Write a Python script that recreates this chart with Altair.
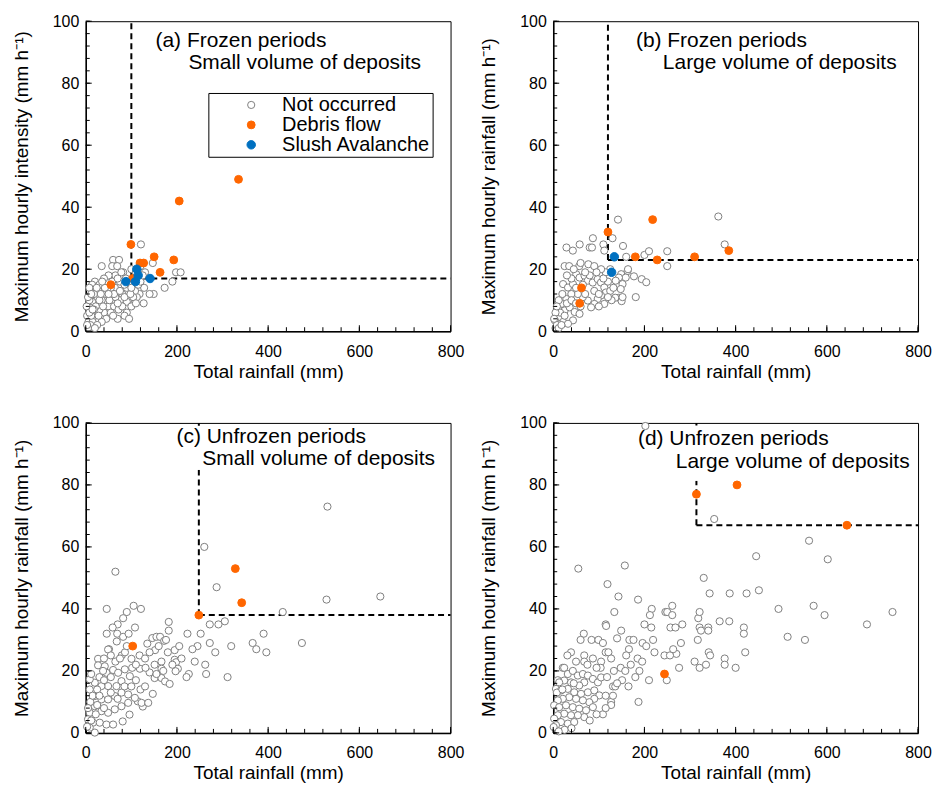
import altair as alt
import pandas as pd

FONT = "Liberation Sans"
ORANGE = "#FF6600"
BLUE = "#0070C0"
GRAY = "#7F7F7F"
TYPES = ["Not occurred", "Debris flow", "Slush Avalanche"]

X_TITLE = "Total rainfall (mm)"
Y_TITLES = ["Maximum hourly intensity (mm h\u207b\u00b9)",
            "Maximum hourly rainfall (mm h\u207b\u00b9)",
            "Maximum hourly rainfall (mm h\u207b\u00b9)",
            "Maximum hourly rainfall (mm h\u207b\u00b9)"]
X_LABELS = [0, 200, 400, 600, 800]
Y_LABELS = [0, 20, 40, 60, 80, 100]
X_MINOR = list(range(0, 801, 40))
Y_MINOR = list(range(0, 101, 4))

# ---- panel (a) Frozen periods, small volume ----
a_not = [(121,28),(60,23),(73,23),(35,21),(58,21),(69,21),(82,19),(65,18),(100,20),(147,22),(198,19),(208,19),
         (190,16),(173,14),(149,12),(140,12),(128,14),(118,12),(127,9),(112,11),(93,10),(90,14),(108,13),(104,11),
         (90,9.5),(70,4),(90,6),(68,13),(64,14),(54,11),(46,9),(39,13),(25,11),(14,9.5),(10,7.5),(3,5),(6,3),
         (20,16),(14,15),(8,14),(28,13),(45,16),(50,18),(75,16),(85,15),(95,16),(105,17),(115,15),(80,12),(75,10),
         (60,10),(50,8),(40,6),(30,7),(20,5),(15,3),(10,2),(5,1),(2,8),(8,10),(18,12),(35,10),(45,12),(55,14),
         (62,8),(72,7),(80,8),(85,11),(98,12),(100,8),(110,9),(65,11),(55,6),(45,4),(35,3),(25,2),(12,5),(22,8),
         (30,10),(38,8),(48,14),(58,16),(70,17),(78,19),(88,17),(40,17),(30,15),(5,11),(12,12),(3,2),(8,6),(18,7),
         (28,5),(33,12),(42,14),(52,10),(62,12),(70,9),(85,5),(95,4),(20,1),(15,7),(24,14),(36,16),(50,12),(60,5),
         (75,13),(100,14),(120,16),(130,19),(110,19),(120,21),(125,18)]
a_debris = [(99,28),(55,15),(119,22),(127,22),(150,24),(193,23),(163,19),(103,17),(205,42),(335,49)]
a_slush = [(88,16),(109,16),(112,20),(115,18),(141,17)]
a_threshold = (100, 17)

# ---- panel (b) Frozen periods, large volume ----
b_not = [(142,36),(362,37),(376,28),(130,30),(153,27.5),(160,24),(200,24.6),(210,25.8),(250,25.8),(250,21),
         (29,27),(43,26),(58,28),(80,27),(85,27),(87,30),(110,28),(112,26),(25,21),(35,21),(57,21),(77,21.6),
         (90,21),(181,11),(177,17.7),(194,16.8),(204,15.8),(144,10.8),(136,10.8),(150,9.7),(163,19.4),(149,18.4),
         (159,17.3),(144,17.3),(137,16.3),(152,15.2),(148,13.6),(152,11),(164,20),
         (21.6,15.2),(32.4,14.1),(43.3,15.2),(50.5,18.4),(57.7,17.3),(68.6,17.9),(75.8,16.3),(86.6,15.7),
         (97.5,16.8),(104.7,15.7),(112,14.1),(115.5,12.5),(104.7,11.5),(97.5,10.4),(112,8.8),(90.2,8.8),(83,7.7),
         (75.8,9.9),(65,11),(54,12),(39.7,12),(28.8,10.4),(18,8.8),(10.8,7.2),(7.1,5.6),(14.4,4.6),(21.6,3),
         (25.2,6.7),(36,7.7),(47,6.2),(57.7,5.6),(43.3,3.5),(32.4,2.4),(10.8,2.4),(3.5,3.5),
         (5,1),(8,2),(12,1),(15,6),(18,2),(25,5),(30,9),(40,10),(50,9),(60,8),(70,12),(90,13),(100,12),(120,16),
         (125,20),(115,19),(105,20),(95,19),(80,18),(65,15),(50,14),(40,17),(30,18),(20,12),(12,10),(5,6),(2,4),
         (8,8),(45,20),(60,22),(70,19),(100,8),(110,17),(125,13),(128,10),(132,14),(120,11)]
b_debris = [(120,32),(218,36),(180,24),(228,23),(310,24),(385,26),(62,14),(58,9)]
b_slush = [(134,24),(128,19)]
b_threshold = (120, 23)

# ---- panel (c) Unfrozen periods, small volume ----
c_not = [(530,73),(646,44),(528,43),(432,39),(474,29),(390,32),(396,26),(366,29),(374,27),(311,18),(319,28),
         (305,36),(291,35),(272,35),(287,47),(260,60),(252,32),(223,32),(245,28),(234,27),(272,29),(284,26),
         (239,23),(262,22),(264,19),(226,19),(221,18),
         (65,52),(46,40),(105,41),(121,40),(90,39),(82,37),(70,35),(59,34),(46,32),(69,32),(82,31),(94,32),
         (108,34),(51,27),(68,29.5),(79,25),
         (140,19.5),(118,25),(151,22),(166,23),(166,20.7),(151,17.7),(166,17.7),(174,16.6),(184,15.8),(147,12.6),
         (125,8.5),(114,10.2),(96,5.9),(81,3.7),
         (135,28.8),(152,26.7),(146,30.6),(155,31),(163,31),(172,29.7),(182,35.8),(182,33),(195,26.7),(195,23.6),
         (198,22.8),(202,20.7),(197,19.9),
         (27,23.9),(27,21.8),(41.7,21.5),(49,26.9),(45.4,19.4),(60,20.3),(71,19.4),(85.7,20.5),(100.3,23.9),
         (101.8,21),(118.7,20.7),(131,21),(96.7,18.3),(78.4,16.7),(67.4,15.1),(49,15.1),(34.4,15.1),(19.8,16.2),
         (8.8,17.3),(8.8,14),(19.8,11.9),(34.4,10.8),(49,10.8),(63.7,11.9),(78.4,13),(93,12.4),(107.7,11.3),
         (122.3,9.7),(137,9.7),(93,9.7),(78.4,8.6),(63.7,7.6),(49,6.5),(34.4,7),(19.8,8.6),(8.8,6.5),(5,4.4),
         (16,3.3),(30.7,3.3),(45.4,2.7),(60,2.7),(19.8,0.1),(8.8,1.7),
         (10,10),(15,12),(25,14),(30,18),(38,20),(40,17),(55,18),(65,23),(75,24),(86,26),(90,28),(55,25),(40,24),
         (30,12),(22,6),(12,4),(5,8),(25,9),(40,8),(55,13),(70,11),(85,15),(100,15),(110,17),(120,14),(130,15),
         (110,22),(130,24),(140,26),(160,28),(176,30),(180,26),(205,28),(210,24),(190,22),(170,20),(155,19),
         (3,2),(12,19)]
c_debris = [(248,38),(328,53),(342,42),(103,28)]
c_slush = []
c_threshold = (248, 38)

# ---- panel (d) Unfrozen periods, large volume ----
d_not = [(202,99),(353,69),(561,62),(602,56),(445,57),(330,50),(343,45),(387,45),(424,45),(451,46),(494,40),
         (571,41),(595,38),(688,35),(744,39),(514,31),(552,30),(421,26),(418,34),(418,32),(365,36),(386,36),
         (318,37),(321,39),(321,34),(324,33),(340,34),(340,33),(317,30),(280,29),(283,35),(341,26),(344,25),
         (310,23),(321,21),(335,22),(376,24),(376,22),(400,21),(276,21),(270,25.5),(249,17),
         (55,53),(157,54),(119,48),(143,44),(186,43),(134,39),(115,35),(116,34.5),(149,33),(140,30.5),(67,32),
         (60,30),(84,30),(99,30),(109,29),(167,30),(176,30),(166,27),(160,25),(39,26),(31,25),(21,21),(10,17),
         (200,35),(215,34),(216,40),(212,38),(246,39),(261,41),(196,29),(204,28),(219,30),(222,26),(244,25),
         (256,25),(257,34),(268,34),(263,27),(250,39),(261,38),
         (115,26),(121,26),(24,21),(68,25),(68,23),(87,24),(105,23),(104,21),(127,24),(133,20),(151,17),(165,15),
         (187,10),(109,6),(210,17),(189,20),(180,18),(127,10),(127,9),(131,15),(136,15),(131,12),
         (32,19),(43,20),(54,18.5),(65,19),(76,18.5),(87,17.4),(98,16.3),(105,17.9),(68,16.3),(57,15.3),(39,16.3),
         (24,16.9),(13,16.3),(6,14.2),(17,13.7),(32,14.2),(46,13.1),(61,12.6),(76,13.1),(90,13.7),(101,12.1),
         (90,11),(79,9.9),(65,10.5),(50,11),(35,11.5),(21,11),(10,10.5),(2,8.9),(13,8.3),(28,8.9),(43,8.3),
         (57,7.8),(72,7.3),(87,8.3),(68,5.1),(54,5.7),(39,5.7),(24,6.2),(10,5.7),(2,4.6),(17,3.5),(32,3),(46,3.5),
         (6,2.5),(1,1.9),(25,1),(12,0.5),(40,1.5),(80,4),(95,6),(115,12),(118,18),(148,21),(158,20),(170,22),
         (185,24),(195,23),(140,16),(75,22),(50,23),(95,21),(8,13),(20,14),(45,16),(115,8)]
d_debris = [(314,77),(403,80),(644,67),(244,19)]
d_slush = []
d_threshold = (314, 67)

a_lines = ["(a) Frozen periods", "Small volume of deposits"]
b_lines = ["(b) Frozen periods", "Large volume of deposits"]
c_lines = ["(c) Unfrozen periods", "Small volume of deposits"]
d_lines = ["(d) Unfrozen periods", "Large volume of deposits"]

W, H = 366, 311


def make_panel(not_occ, debris, slush, thr, lines, line_pos, ytitle, show_legend, box=None):
    rows = []
    for kind, pts in zip(TYPES, [not_occ, debris, slush]):
        for x, y in pts:
            rows.append({"x": x, "y": y, "type": kind})
    df = pd.DataFrame(rows)

    xs = alt.Scale(domain=[0, 800], nice=False, zero=True)
    ys = alt.Scale(domain=[0, 100], nice=False, zero=True)
    xax = alt.Axis(values=X_LABELS, title=X_TITLE, grid=False, ticks=False, tickSize=0,
                   labelPadding=12, titlePadding=3, labelFlush=False)
    yax = alt.Axis(values=Y_LABELS, title=ytitle, grid=False, ticks=False, tickSize=0,
                   labelPadding=7, titlePadding=21, labelFlush=False)

    def X(f):
        return alt.X(f, type="quantitative", scale=xs, axis=xax)

    def Y(f):
        return alt.Y(f, type="quantitative", scale=ys, axis=yax)

    if show_legend:
        leg = alt.Legend(orient="none", legendX=123, legendY=72, title=None,
                         strokeColor="black", fillColor="white", padding=2,
                         symbolOffset=31, labelOffset=21, labelFontSize=20, labelFont=FONT,
                         rowPadding=0, symbolStrokeWidth=1, labelColor="black")
    else:
        leg = None

    vx, hy = thr
    thr_df = pd.DataFrame([
        {"x": vx, "x2": vx, "y": hy, "y2": 100},
        {"x": vx, "x2": 800, "y": hy, "y2": hy},
    ])
    dashes = alt.Chart(thr_df).mark_rule(color="black", strokeDash=[6, 4], strokeWidth=2).encode(
        x=X("x"), x2="x2", y=Y("y"), y2="y2")

    layers = [dashes]
    if box is not None:
        bx0, bx1, by0, by1 = box
        layers.append(alt.Chart(thr_df).mark_rect(color="white").encode(
            x=alt.value(bx0), x2=alt.value(bx1), y=alt.value(by0), y2=alt.value(by1)))

    for txt, (px, py) in zip(lines, line_pos):
        layers.append(alt.Chart(pd.DataFrame([{"t": txt}])).mark_text(
            align="left", baseline="middle", fontSize=21, font=FONT, color="black").encode(
            text="t:N", x=alt.value(px), y=alt.value(py)))

    pts = alt.Chart(df).mark_point(shape="circle", opacity=1, strokeWidth=1).encode(
        x=X("x"), y=Y("y"),
        fill=alt.Fill("type:N", scale=alt.Scale(domain=TYPES, range=["white", ORANGE, BLUE]),
                      legend=leg, sort=TYPES),
        stroke=alt.Stroke("type:N", scale=alt.Scale(domain=TYPES, range=[GRAY, ORANGE, BLUE]),
                          legend=leg, sort=TYPES),
        size=alt.Size("type:N", scale=alt.Scale(domain=TYPES, range=[52, 72, 72]),
                      legend=leg, sort=TYPES),
    )
    layers.append(pts)

    ymaj = pd.DataFrame({"v": Y_LABELS})
    ymin = pd.DataFrame({"v": Y_MINOR})
    xmaj = pd.DataFrame({"v": X_LABELS})
    xmin = pd.DataFrame({"v": X_MINOR})
    layers.append(alt.Chart(ymin).mark_rule(color="black", strokeWidth=1).encode(
        y=Y("v"), x=alt.value(0), x2=alt.value(4)))
    layers.append(alt.Chart(ymaj).mark_rule(color="black", strokeWidth=1).encode(
        y=Y("v"), x=alt.value(0), x2=alt.value(6)))
    layers.append(alt.Chart(xmin).mark_rule(color="black", strokeWidth=1).encode(
        x=X("v"), y=alt.value(H), y2=alt.value(H - 4)))
    layers.append(alt.Chart(xmaj).mark_rule(color="black", strokeWidth=1).encode(
        x=X("v"), y=alt.value(H), y2=alt.value(H - 6)))

    return alt.layer(*layers).properties(width=W, height=H)


pa = make_panel(a_not, a_debris, a_slush, a_threshold, a_lines, [(70, 20), (103, 42)], Y_TITLES[0], True)
pb = make_panel(b_not, b_debris, b_slush, b_threshold, b_lines, [(83, 20), (110, 42)], Y_TITLES[1], False)
pc = make_panel(c_not, c_debris, c_slush, c_threshold, c_lines, [(91, 14), (117, 36)], Y_TITLES[2], False,
                box=(87, 360, 6, 47))
pd_ = make_panel(d_not, d_debris, d_slush, d_threshold, d_lines, [(85, 16), (123, 39)], Y_TITLES[3], False,
                 box=(80, 365, 5, 58))

top = alt.hconcat(pa, pb, spacing=14).resolve_scale(fill="independent", stroke="independent", size="independent")
bottom = alt.hconcat(pc, pd_, spacing=14).resolve_scale(fill="independent", stroke="independent", size="independent")

chart = alt.vconcat(top, bottom, spacing=32).resolve_scale(
    fill="independent", stroke="independent", size="independent"
).properties(
    padding={"left": 3, "top": 3, "right": 0, "bottom": 0},
    background="white",
).configure_view(
    stroke="black", strokeWidth=1
).configure_axis(
    domainColor="black", domainWidth=1.5,
    labelFont=FONT, titleFont=FONT, labelFontSize=16, titleFontSize=19,
    titleFontWeight="normal", labelColor="black", titleColor="black",
).configure_text(font=FONT)

chart.save("out.html", embed_options={"renderer": "svg", "actions": False})
